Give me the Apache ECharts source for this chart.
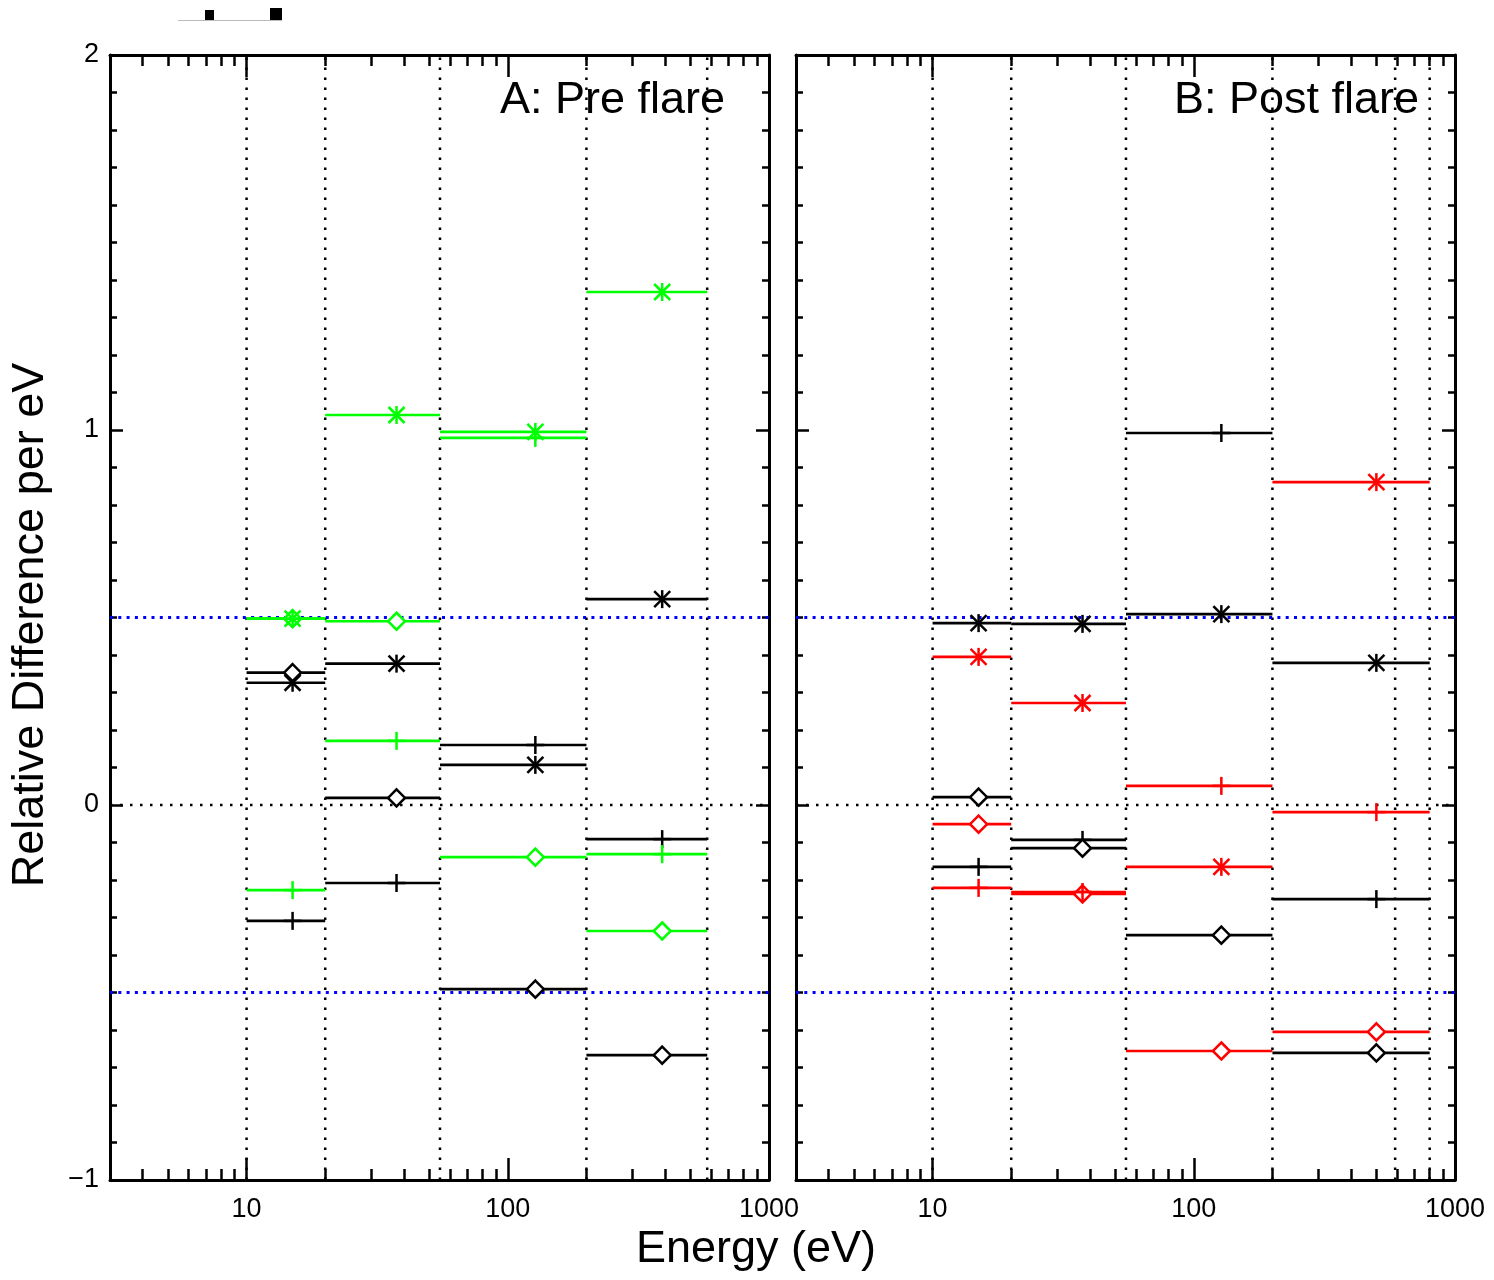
<!DOCTYPE html>
<html>
<head>
<meta charset="utf-8">
<script src="https://cdn.jsdelivr.net/npm/echarts@6/dist/echarts.min.js"></script>
<style>
html,body{margin:0;padding:0;background:#fff;}
#chart{width:1494px;height:1280px;}
</style>
</head>
<body>
<div id="chart"></div>
<script>
// ---------- data ----------
const X_MIN = 3, X_MAX = 1000;
const Y_MIN = -1, Y_MAX = 2;
const xMajorTicks = [10, 100, 1000];
const xMinorTicks = [4,5,6,7,8,9,20,30,40,50,60,70,80,90,200,300,400,500,600,700,800,900];

// energy bins (eV): [low, high] and marker position
const binLowA  = [10, 20, 55, 200];
const binHighA = [20, 55, 200, 580];
const binMidA  = [15, 37.5, 127.5, 390];
const binLowB  = [10, 20, 55, 200];
const binHighB = [20, 55, 200, 800];
const binMidB  = [15, 37.5, 127.5, 500];

// dotted vertical bin boundaries
const vLinesA = [10, 20, 55, 200, 580];
const vLinesB = [10, 20, 55, 200, 590, 800];
const blueLevels = [0.5, -0.5];
const zeroLevel = [0];

// Panel A: Pre flare
const A_greenAst  = [0.497, 1.040, 0.995, 1.368];
const A_greenPlus = [-0.227, 0.171, 0.979, -0.131];
const A_greenDia  = [0.497, 0.490, -0.139, -0.336];
const A_blackAst  = [0.326, 0.377, 0.107, 0.549];
const A_blackPlus = [-0.309, -0.208, 0.160, -0.091];
const A_blackDia  = [0.353, 0.019, -0.491, -0.667];

// Panel B: Post flare
const B_blackAst  = [0.485, 0.483, 0.509, 0.379];
const B_blackPlus = [-0.165, -0.093, 0.992, -0.251];
const B_blackDia  = [0.021, -0.115, -0.347, -0.661];
const B_redAst    = [0.395, 0.272, -0.165, 0.861];
const B_redPlus   = [-0.221, -0.232, 0.051, -0.019];
const B_redDia    = [-0.051, -0.237, -0.656, -0.605];

// ---------- styling ----------
const FONT = "'Liberation Sans', Arial, Helvetica, sans-serif";
const GREEN = '#00ff00', RED = '#ff0000', BLACK = '#000000', BLUE = '#0000ff';
const AXW = 3;

const grids = [
  {left: 110, top: 55, width: 659, height: 1125},
  {left: 796, top: 55, width: 659, height: 1125}
];

function xAxisDef(grid, kind, pos, labels) {
  const major = kind === 'major';
  return {
    type: 'log', logBase: 10, gridIndex: grid, position: pos,
    min: X_MIN, max: X_MAX,
    axisLine: {show: major, onZero: false, lineStyle: {color: BLACK, width: AXW}},
    axisTick: {show: true, inside: true, length: major ? 22 : 11,
               customValues: major ? xMajorTicks : xMinorTicks,
               lineStyle: {color: BLACK, width: 2.5}},
    axisLabel: {show: labels, customValues: xMajorTicks, margin: 16,
                fontSize: 27, fontFamily: FONT, color: BLACK,
                formatter: v => String(Math.round(v))},
    splitLine: {show: false}, minorTick: {show: false}
  };
}
function yAxisDef(grid, kind, pos, labels) {
  const major = kind === 'major';
  return {
    type: 'value', gridIndex: grid, position: pos,
    min: Y_MIN, max: Y_MAX, interval: major ? 1 : 0.1,
    axisLine: {show: major, onZero: false, lineStyle: {color: BLACK, width: AXW}},
    axisTick: {show: true, inside: true, length: major ? 13 : 7,
               lineStyle: {color: BLACK, width: 2.5}},
    axisLabel: {show: labels, margin: 11, fontSize: 27, fontFamily: FONT, color: BLACK,
                formatter: v => v < 0 ? '\u2212' + Math.abs(v) : String(v)},
    splitLine: {show: false}
  };
}

const xAxes = [], yAxes = [];
[0, 1].forEach(g => {
  xAxes.push(xAxisDef(g, 'major', 'bottom', true));
  xAxes.push(xAxisDef(g, 'major', 'top', false));
  xAxes.push(xAxisDef(g, 'minor', 'bottom', false));
  xAxes.push(xAxisDef(g, 'minor', 'top', false));
  yAxes.push(yAxisDef(g, 'major', 'left', g === 0));
  yAxes.push(yAxisDef(g, 'major', 'right', false));
  yAxes.push(yAxisDef(g, 'minor', 'left', false));
  yAxes.push(yAxisDef(g, 'minor', 'right', false));
});

function markerShapes(kind, c, color) {
  const s = {stroke: color, lineWidth: 2.5};
  const ln = (x1, y1, x2, y2) => ({type: 'line', shape: {x1, y1, x2, y2}, style: s});
  const [x, y] = c;
  if (kind === 'ast') {
    return [ln(x, y - 9, x, y + 9), ln(x - 8, y - 8, x + 8, y + 8), ln(x - 8, y + 8, x + 8, y - 8)];
  } else if (kind === 'plus') {
    return [ln(x, y - 9, x, y + 9), ln(x - 9, y, x + 9, y)];
  } else {
    return [{type: 'polygon', shape: {points: [[x, y - 8.5], [x + 8.5, y], [x, y + 8.5], [x - 8.5, y]]},
             style: {stroke: color, lineWidth: 2.5, fill: '#ffffff'}}];
  }
}

function dataSeries(grid, lows, highs, mids, vals, color, kind) {
  return {
    type: 'custom', coordinateSystem: 'cartesian2d',
    xAxisIndex: grid * 4, yAxisIndex: grid * 4, z: 5,
    data: vals.map((v, i) => [lows[i], highs[i], mids[i], v]),
    encode: {x: [0, 1, 2], y: 3},
    renderItem: (params, api) => {
      const y = api.value(3);
      const p0 = api.coord([api.value(0), y]);
      const p1 = api.coord([api.value(1), y]);
      const pc = api.coord([api.value(2), y]);
      return {type: 'group', children: [
        {type: 'line', shape: {x1: p0[0], y1: p0[1], x2: p1[0], y2: p1[1]},
         style: {stroke: color, lineWidth: 2.7}}
      ].concat(markerShapes(kind, pc, color))};
    }
  };
}

function vGuide(grid, xs) {
  return {
    type: 'custom', coordinateSystem: 'cartesian2d',
    xAxisIndex: grid * 4, yAxisIndex: grid * 4, z: 2, silent: true,
    data: xs.map(x => [x, Y_MIN, Y_MAX]),
    encode: {x: 0, y: [1, 2]},
    renderItem: (params, api) => {
      const a = api.coord([api.value(0), api.value(1)]);
      const b = api.coord([api.value(0), api.value(2)]);
      return {type: 'line', shape: {x1: a[0], y1: a[1], x2: b[0], y2: b[1]},
              style: {stroke: BLACK, lineWidth: 2.5, lineDash: [2.5, 7.5]}};
    }
  };
}
function hGuide(grid, ys, color, dash, w) {
  return {
    type: 'custom', coordinateSystem: 'cartesian2d',
    xAxisIndex: grid * 4, yAxisIndex: grid * 4, z: 2, silent: true,
    data: ys.map(y => [X_MIN, X_MAX, y]),
    encode: {x: [0, 1], y: 2},
    renderItem: (params, api) => {
      const a = api.coord([api.value(0), api.value(2)]);
      const b = api.coord([api.value(1), api.value(2)]);
      return {type: 'line', shape: {x1: a[0], y1: a[1], x2: b[0], y2: b[1]},
              style: {stroke: color, lineWidth: w, lineDash: dash}};
    }
  };
}

const series = [
  vGuide(0, vLinesA), hGuide(0, blueLevels, BLUE, [3, 5.3], 3), hGuide(0, zeroLevel, BLACK, [2.5, 7.5], 2.5),
  vGuide(1, vLinesB), hGuide(1, blueLevels, BLUE, [3, 5.3], 3), hGuide(1, zeroLevel, BLACK, [2.5, 7.5], 2.5),

  dataSeries(0, binLowA, binHighA, binMidA, A_blackAst, BLACK, 'ast'),
  dataSeries(0, binLowA, binHighA, binMidA, A_blackPlus, BLACK, 'plus'),
  dataSeries(0, binLowA, binHighA, binMidA, A_blackDia, BLACK, 'dia'),
  dataSeries(0, binLowA, binHighA, binMidA, A_greenDia, GREEN, 'dia'),
  dataSeries(0, binLowA, binHighA, binMidA, A_greenPlus, GREEN, 'plus'),
  dataSeries(0, binLowA, binHighA, binMidA, A_greenAst, GREEN, 'ast'),

  dataSeries(1, binLowB, binHighB, binMidB, B_blackAst, BLACK, 'ast'),
  dataSeries(1, binLowB, binHighB, binMidB, B_blackPlus, BLACK, 'plus'),
  dataSeries(1, binLowB, binHighB, binMidB, B_blackDia, BLACK, 'dia'),
  dataSeries(1, binLowB, binHighB, binMidB, B_redDia, RED, 'dia'),
  dataSeries(1, binLowB, binHighB, binMidB, B_redPlus, RED, 'plus'),
  dataSeries(1, binLowB, binHighB, binMidB, B_redAst, RED, 'ast')
];

const chart = echarts.init(document.getElementById('chart'), null, {renderer: 'canvas'});
chart.setOption({
  backgroundColor: '#ffffff',
  animation: false,
  grid: grids,
  xAxis: xAxes,
  yAxis: yAxes,
  series: series,
  graphic: [
    {type: 'text', x: 725, y: 101, z: 10,
     style: {text: 'A: Pre flare', fontSize: 45, fontFamily: FONT, fill: BLACK,
             textAlign: 'right', textVerticalAlign: 'middle'}},
    {type: 'text', x: 1419, y: 101, z: 10,
     style: {text: 'B: Post flare', fontSize: 45, fontFamily: FONT, fill: BLACK,
             textAlign: 'right', textVerticalAlign: 'middle'}},
    {type: 'text', x: 756, y: 1250, z: 10,
     style: {text: 'Energy (eV)', fontSize: 45, fontFamily: FONT, fill: BLACK,
             textAlign: 'center', textVerticalAlign: 'middle'}},
    {type: 'text', x: 31, y: 625, rotation: Math.PI / 2, z: 10,
     style: {text: 'Relative Difference per eV', fontSize: 45, fontFamily: FONT, fill: BLACK,
             textAlign: 'center', textVerticalAlign: 'middle'}},
    {type: 'rect', shape: {x: 205, y: 10, width: 9, height: 11}, style: {fill: BLACK}},
    {type: 'rect', shape: {x: 270, y: 8, width: 12, height: 13}, style: {fill: BLACK}},
    {type: 'rect', shape: {x: 178, y: 20, width: 104, height: 1}, style: {fill: '#bbbbbb'}}
  ]
});
</script>
</body>
</html>
